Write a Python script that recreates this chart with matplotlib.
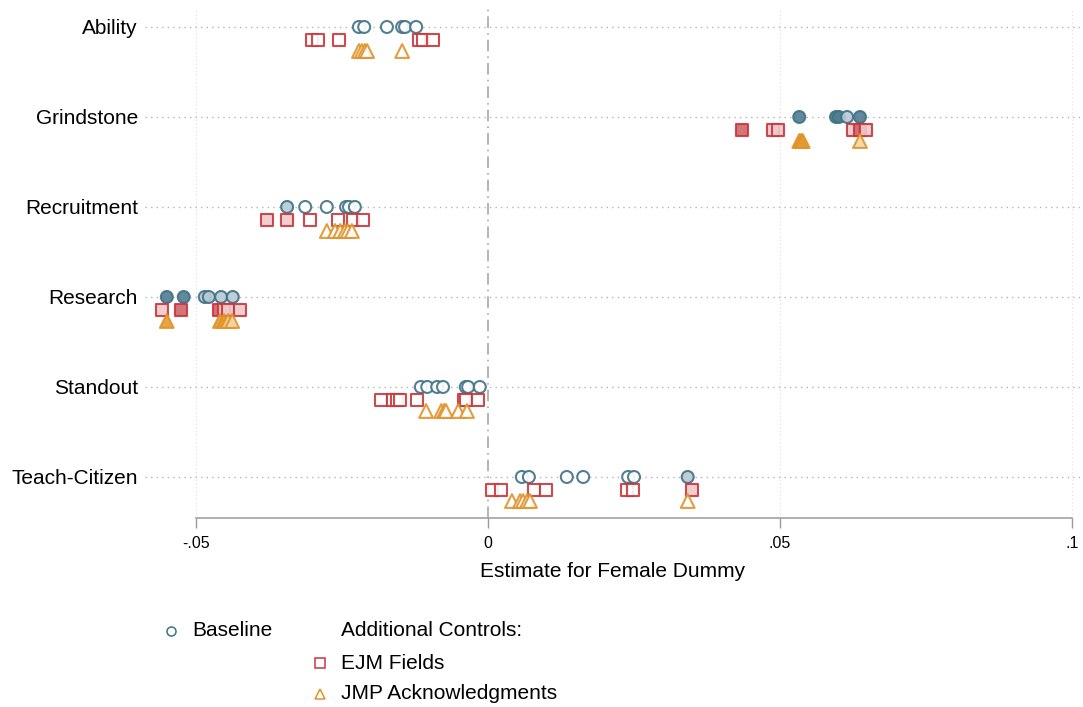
import matplotlib

matplotlib.use("Agg")
import matplotlib.pyplot as plt
from matplotlib.lines import Line2D

plt.rcParams["font.family"] = ["Liberation Sans", "DejaVu Sans"]

# outcome rows, top to bottom
ROWS = ["Ability", "Grindstone", "Recruitment", "Research", "Standout", "Teach-Citizen"]

# point estimates per row
baseline_est = [
    [-0.0221, -0.0212, -0.0173, -0.0147, -0.0142, -0.0123],
    [0.0533, 0.0596, 0.0601, 0.0615, 0.0637],
    [-0.0344, -0.0313, -0.0276, -0.0243, -0.0238, -0.0228],
    [-0.0550, -0.0521, -0.0485, -0.0478, -0.0457, -0.0437],
    [-0.0115, -0.0104, -0.0087, -0.0077, -0.0038, -0.0034, -0.0014],
    [0.0058, 0.0070, 0.0135, 0.0163, 0.0240, 0.0250, 0.0342],
]
ejm_est = [
    [-0.0301, -0.0291, -0.0255, -0.0118, -0.0111, -0.0094],
    [0.0435, 0.0488, 0.0497, 0.0625, 0.0637, 0.0647],
    [-0.0378, -0.0344, -0.0305, -0.0257, -0.0231, -0.0214],
    [-0.0558, -0.0526, -0.0461, -0.0452, -0.0445, -0.0425],
    [-0.0183, -0.0163, -0.0156, -0.0151, -0.0122, -0.0041, -0.0038, -0.0017],
    [0.0007, 0.0022, 0.0079, 0.0099, 0.0238, 0.0248, 0.0349],
]
jmp_est = [
    [-0.0221, -0.0216, -0.0211, -0.0207, -0.0147],
    [0.0533, 0.0536, 0.0539, 0.0637],
    [-0.0276, -0.0262, -0.0253, -0.0245, -0.0240, -0.0233],
    [-0.0550, -0.0459, -0.0452, -0.0445, -0.0438],
    [-0.0106, -0.0080, -0.0075, -0.0072, -0.0051, -0.0036],
    [0.0041, 0.0055, 0.0060, 0.0067, 0.0072, 0.0342],
]

# significance shading: 0 hollow, 1 light fill, 2 full fill
baseline_fill = [
    [0, 0, 0, 0, 0, 0],
    [2, 2, 2, 1, 2],
    [1, 0, 0, 0, 0, 0],
    [2, 2, 1, 1, 1, 1],
    [0, 0, 0, 0, 0, 0, 0],
    [0, 0, 0, 0, 0, 0, 1],
]
ejm_fill = [
    [0, 0, 0, 0, 0, 0],
    [2, 1, 1, 1, 2, 1],
    [1, 1, 0, 0, 0, 0],
    [1, 2, 2, 1, 1, 1],
    [0, 0, 0, 0, 0, 0, 0, 0],
    [0, 0, 0, 0, 0, 0, 1],
]
jmp_fill = [
    [0, 0, 0, 0, 0],
    [2, 2, 2, 1],
    [0, 0, 0, 0, 0, 0],
    [2, 2, 2, 1, 1],
    [0, 0, 0, 0, 0, 0],
    [0, 0, 0, 0, 0, 0],
]

X_TICKS = [-0.05, 0, 0.05, 0.1]
X_TICK_LABELS = ["-.05", "0", ".05", ".1"]

SERIES = [
    # name, estimates, fills, marker, edge, (hollow, light, full), offset, size
    ("Baseline", baseline_est, baseline_fill, "o", "#3f7186",
     ("white", "#b7cad3", "#4f7e91"), 0.0, 74),
    ("EJM Fields", ejm_est, ejm_fill, "s", "#c9363c",
     ("white", "#efc9cb", "#d0666a"), 0.144, 80),
    ("JMP Acknowledgments", jmp_est, jmp_fill, "^", "#e0932a",
     ("white", "#f5d6a6", "#e39c33"), 0.267, 98),
]

fig = plt.figure(figsize=(10.83, 7.07), dpi=100)
ax = fig.add_axes([0.1339, 0.2673, 0.8633, 0.7214])

for name, est, fills, marker, edge, faces, offset, size in SERIES:
    for i, (vals, fl) in enumerate(zip(est, fills)):
        ax.scatter(vals, [i + offset] * len(vals), marker=marker, s=size,
                   facecolors=[faces[f] for f in fl], edgecolors=edge,
                   linewidths=1.5, alpha=0.9, zorder=3)

ax.set_xlim(-0.05873, 0.10137)
ax.set_ylim(5.456, -0.211)

# row guides and faint vertical grid
for i in range(len(ROWS)):
    ax.axhline(i, color="#b5b5b5", linestyle=(0, (1, 3)), linewidth=1.0, zorder=1)
for xt in X_TICKS:
    if xt != 0:
        ax.axvline(xt, color="#e2e2e2", linestyle=(0, (1, 2)), linewidth=0.9, zorder=0)
ax.axvline(0, color="#a8a8a8", linestyle=(0, (7, 3, 1, 3)), linewidth=1.2, zorder=1)

ax.set_yticks(range(len(ROWS)))
ax.set_yticklabels(ROWS, fontsize=15)
ax.tick_params(axis="y", length=0, pad=5)

ax.set_xticks(X_TICKS)
ax.set_xticklabels(X_TICK_LABELS, fontsize=11.5)
ax.tick_params(axis="x", length=7, width=1, color="#9a9a9a", pad=6)
ax.set_xlabel("Estimate for Female Dummy", fontsize=15, labelpad=8)

for side in ["top", "right", "left"]:
    ax.spines[side].set_visible(False)
ax.spines["bottom"].set_bounds(-0.05, 0.1)
ax.spines["bottom"].set_color("#9a9a9a")
ax.spines["bottom"].set_linewidth(1.1)

# hand-built legend below the plot
def key(x, y, marker, color, ms):
    fig.add_artist(Line2D([x], [y], marker=marker, markersize=ms, color=color,
                          markerfacecolor="white", markeredgewidth=1.1,
                          linestyle="none", transform=fig.transFigure))

key(0.1579, 0.1075, "o", SERIES[0][4], 6.5)
fig.text(0.1773, 0.1075, "Baseline", fontsize=15, va="center")
fig.text(0.3149, 0.1075, "Additional Controls:", fontsize=15, va="center")
key(0.2955, 0.0622, "s", SERIES[1][4], 6.5)
fig.text(0.3149, 0.0622, "EJM Fields", fontsize=15, va="center")
key(0.2955, 0.0184, "^", SERIES[2][4], 7)
fig.text(0.3149, 0.0184, "JMP Acknowledgments", fontsize=15, va="center")

fig.savefig("out.png", dpi=100)
